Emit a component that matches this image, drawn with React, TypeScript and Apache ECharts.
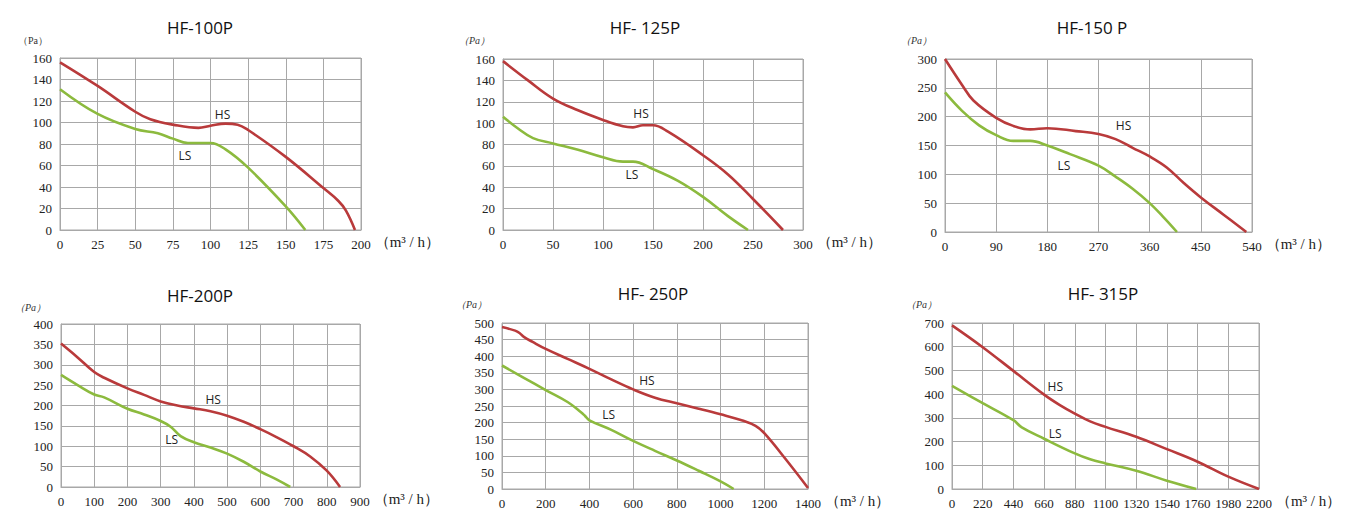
import React, { useEffect, useRef } from "react";
import * as echarts from "echarts";

// ---------- data ----------
const titles = ["HF-100P", "HF- 125P", "HF-150 P", "HF-200P", "HF- 250P", "HF- 315P"];

const xMax = [200, 300, 540, 900, 1400, 2200];
const xStep = [25, 50, 90, 100, 200, 220];
const yMax = [160, 160, 300, 400, 500, 700];
const yStep = [20, 20, 50, 50, 50, 100];

const hs100 = [[0,156],[25,134],[50,110],[60,103],[75,98],[92,95],[100,97],[110,99],[118,98],[125,93],[150,68],[175,39],[185,27],[190,18],[196,0]];
const ls100 = [[0,131],[25,108],[50,94],[65,90],[75,85],[85,81],[100,81],[110,75],[125,58],[150,22],[163,0]];

const hs125 = [[0,158],[25,140],[50,123],[75,112],[100,103],[120,97],[130,96],[140,98],[150,98],[165,92],[200,70],[225,52],[250,29],[280,0]];
const ls125 = [[0,106],[15,95],[30,86],[50,81],[75,75],[100,68],[120,64],[130,64],[150,57],[175,46],[200,31],[225,13],[245,0]];

const hs150 = [[0,300],[30,255],[50,228],[90,198],[120,184],[150,178],[180,180],[230,175],[270,170],[300,161],[330,146],[360,131],[390,112],[420,85],[450,60],[490,30],[530,0]];
const ls150 = [[0,242],[30,210],[60,185],[90,168],[120,158],[150,158],[180,150],[220,135],[270,115],[300,96],[330,75],[360,50],[385,25],[408,0]];

const hs200 = [[0,352],[50,318],[100,282],[130,268],[200,242],[250,226],[300,210],[350,200],[400,193],[450,186],[500,175],[550,160],[600,142],[650,122],[700,100],[750,75],[800,40],[840,0]];
const ls200 = [[0,275],[50,250],[100,227],[130,220],[200,192],[250,178],[300,162],[330,148],[360,125],[400,110],[450,97],[500,82],[550,62],[600,38],[650,18],[690,0]];

const hs250 = [[0,488],[60,477],[80,470],[100,458],[140,443],[200,422],[300,392],[400,362],[500,330],[600,300],[700,275],[800,258],[900,242],[1000,225],[1100,206],[1160,190],[1200,168],[1300,88],[1400,3]];
const ls250 = [[0,372],[100,335],[200,298],[300,262],[360,232],[380,220],[400,207],[500,178],[600,145],[700,115],[800,86],[900,55],[1000,23],[1060,0]];

const hs315 = [[0,690],[220,598],[440,498],[660,398],[770,355],[880,318],[990,285],[1100,262],[1320,220],[1540,168],[1760,115],[1980,52],[2200,0]];
const ls315 = [[0,435],[220,362],[440,290],[500,260],[660,212],[880,150],[990,125],[1100,108],[1320,77],[1540,35],[1750,0]];

const hsSeries = [hs100, hs125, hs150, hs200, hs250, hs315];
const lsSeries = [ls100, ls125, ls150, ls200, ls250, ls315];

const hsLabelAt = [[108,107],[138,109],[314,184],[458,214],[663,326],[740,432]];
const lsLabelAt = [[83,69],[129,52],[209,115],[333,116],[488,224],[740,232]];

const paItalic = [false, true, true, true, true, true];

// ---------- layout ----------
const grids = [
  { left: 60, top: 58, width: 301, height: 172 },
  { left: 503, top: 59, width: 300, height: 171 },
  { left: 945, top: 59, width: 307, height: 173 },
  { left: 61, top: 324, width: 299, height: 163 },
  { left: 502, top: 323, width: 306, height: 166 },
  { left: 952, top: 323, width: 307, height: 166 },
];
const titlePos = [[200, 27], [645, 27], [1092, 27], [200, 295], [653, 293], [1103, 293]];
const paPos = [[18, 40], [459, 40], [901, 40], [15, 307], [456, 304], [906, 304]];
const unitGap = [2, -2, 8, 3, -2, 1];

const HS_COLOR = "#b93a3b";
const LS_COLOR = "#8cba3e";
const GRID_COLOR = "#a8a8a8";
const SERIF = "Liberation Serif";
const SANS = "Open Sans";

export default function App() {
  const ref = useRef<HTMLDivElement>(null);

  useEffect(() => {
    document.body.style.margin = "0";
    const chart = echarts.init(ref.current!, undefined, { renderer: "svg" });

    const xAxis: any[] = [];
    const yAxis: any[] = [];
    const series: any[] = [];
    const graphic: any[] = [];
    const plain = (v: number) => String(v);

    grids.forEach((g, i) => {
      xAxis.push({
        type: "value",
        gridIndex: i,
        min: 0,
        max: xMax[i],
        interval: xStep[i],
        name: "（m³ / h）",
        nameLocation: "end",
        nameGap: unitGap[i],
        nameTextStyle: {
          fontFamily: SERIF,
          fontSize: 15,
          color: "#222",
          align: "left",
          verticalAlign: "top",
          padding: [4, 0, 0, 0],
        },
        axisLine: { show: true, lineStyle: { color: GRID_COLOR, width: 1 } },
        axisTick: { show: false },
        axisLabel: { fontFamily: SERIF, fontSize: 13, color: "#222", margin: 8, formatter: plain },
        splitLine: { show: true, lineStyle: { color: GRID_COLOR, width: 1 } },
      });
      yAxis.push({
        type: "value",
        gridIndex: i,
        min: 0,
        max: yMax[i],
        interval: yStep[i],
        axisLine: { show: true, lineStyle: { color: GRID_COLOR, width: 1 } },
        axisTick: { show: false },
        axisLabel: { fontFamily: SERIF, fontSize: 13, color: "#222", margin: 8, formatter: plain },
        splitLine: { show: true, lineStyle: { color: GRID_COLOR, width: 1 } },
      });
      const mk = (txt: string, at: number[]) => ({
        symbol: "circle",
        symbolSize: 1,
        silent: true,
        itemStyle: { color: "rgba(0,0,0,0)" },
        label: { show: true, formatter: txt, position: "inside", color: "#222", fontFamily: SANS, fontSize: 12 },
        data: [{ coord: at }],
      });
      series.push({
        type: "line",
        xAxisIndex: i,
        yAxisIndex: i,
        data: hsSeries[i],
        smooth: 0.4,
        showSymbol: false,
        lineStyle: { color: HS_COLOR, width: 2.6 },
        itemStyle: { color: HS_COLOR },
        markPoint: mk("HS", hsLabelAt[i]),
      });
      series.push({
        type: "line",
        xAxisIndex: i,
        yAxisIndex: i,
        data: lsSeries[i],
        smooth: 0.4,
        showSymbol: false,
        lineStyle: { color: LS_COLOR, width: 2.6 },
        itemStyle: { color: LS_COLOR },
        markPoint: mk("LS", lsLabelAt[i]),
      });
      graphic.push({
        type: "text",
        x: titlePos[i][0],
        y: titlePos[i][1],
        style: {
          text: titles[i],
          fill: "#111",
          fontFamily: SANS,
          fontSize: 17,
          textAlign: "center",
          textVerticalAlign: "middle",
        },
      });
      graphic.push({
        type: "text",
        x: paPos[i][0],
        y: paPos[i][1],
        style: {
          text: "（Pa）",
          fill: "#333",
          fontFamily: SERIF,
          fontSize: 10,
          fontStyle: paItalic[i] ? "italic" : "normal",
          textAlign: "left",
          textVerticalAlign: "middle",
        },
      });
    });

    chart.setOption({
      animation: false,
      backgroundColor: "#ffffff",
      grid: grids.map((g) => ({ ...g, show: true, borderColor: GRID_COLOR, borderWidth: 1, containLabel: false })),
      xAxis,
      yAxis,
      series,
      graphic,
    });

    return () => chart.dispose();
  }, []);

  return <div ref={ref} style={{ width: 1351, height: 513 }} />;
}
